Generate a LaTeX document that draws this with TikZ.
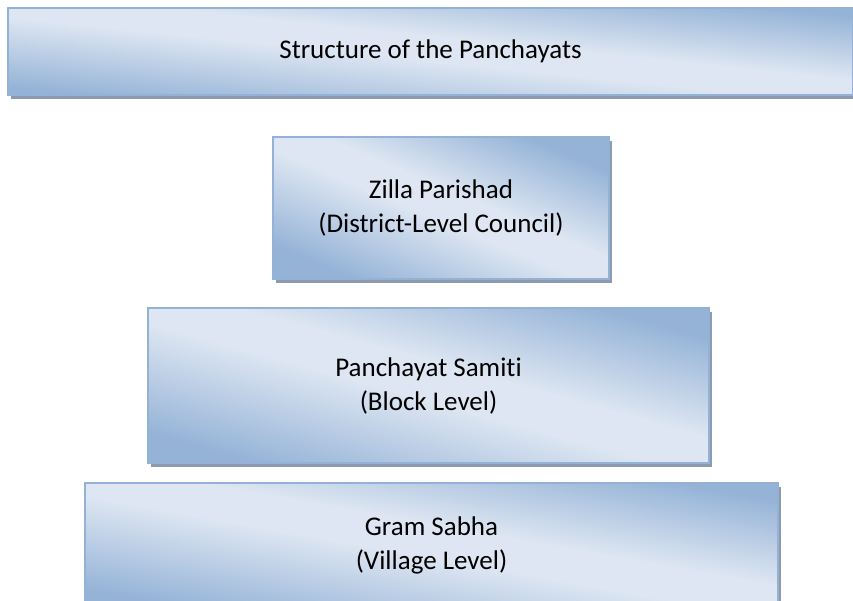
\documentclass[tikz,border=0pt]{standalone}
\usepackage{fontspec}
\setmainfont{Carlito}[Ligatures=NoCommon]
\usetikzlibrary{shadows}
\definecolor{BoxDark}{RGB}{149,179,215}
\definecolor{BoxLight}{RGB}{221,230,242}
\definecolor{BoxEdge}{RGB}{147,178,214}
\definecolor{ShadowGray}{RGB}{142,155,174}
\pgfdeclareverticalshading{levelshade}{100bp}{color(0bp)=(BoxDark); color(25bp)=(BoxDark); color(47bp)=(BoxLight); color(55bp)=(BoxLight); color(75bp)=(BoxDark); color(100bp)=(BoxDark)}
\tikzstyle{level} = [rectangle, draw=BoxEdge, line width=1.3pt, shade, shading=levelshade, drop shadow={shadow xshift=3pt, shadow yshift=-4pt, fill=ShadowGray, opacity=1}, align=center, inner sep=0pt, font=\fontsize{27}{34}\selectfont]

\begin{document}
\begin{tikzpicture}[x=1pt, y=-1pt]
	\clip (0,0) rectangle (853,600);
	\fill[white] (0,0) rectangle (853,600);
	% TITLE
	\node (T) [level, minimum width=845pt, minimum height=87pt, shading angle=-5.9] at (430.5,51.5) {Structure of the Panchayats};
	% LEVELS
	\node (Z) [level, minimum width=336pt, minimum height=142pt, shading angle=-22.9] at (441,208) {Zilla Parishad\\(District-Level Council)};
	\node (S) [level, minimum width=561pt, minimum height=155pt, shading angle=-15.4] at (428.5,385.5) {Panchayat Samiti\\(Block Level)};
	\node (G) [level, minimum width=693pt, minimum height=124pt, shading angle=-10.1] at (431.5,545) {Gram Sabha\\(Village Level)};
\end{tikzpicture}
\end{document}
